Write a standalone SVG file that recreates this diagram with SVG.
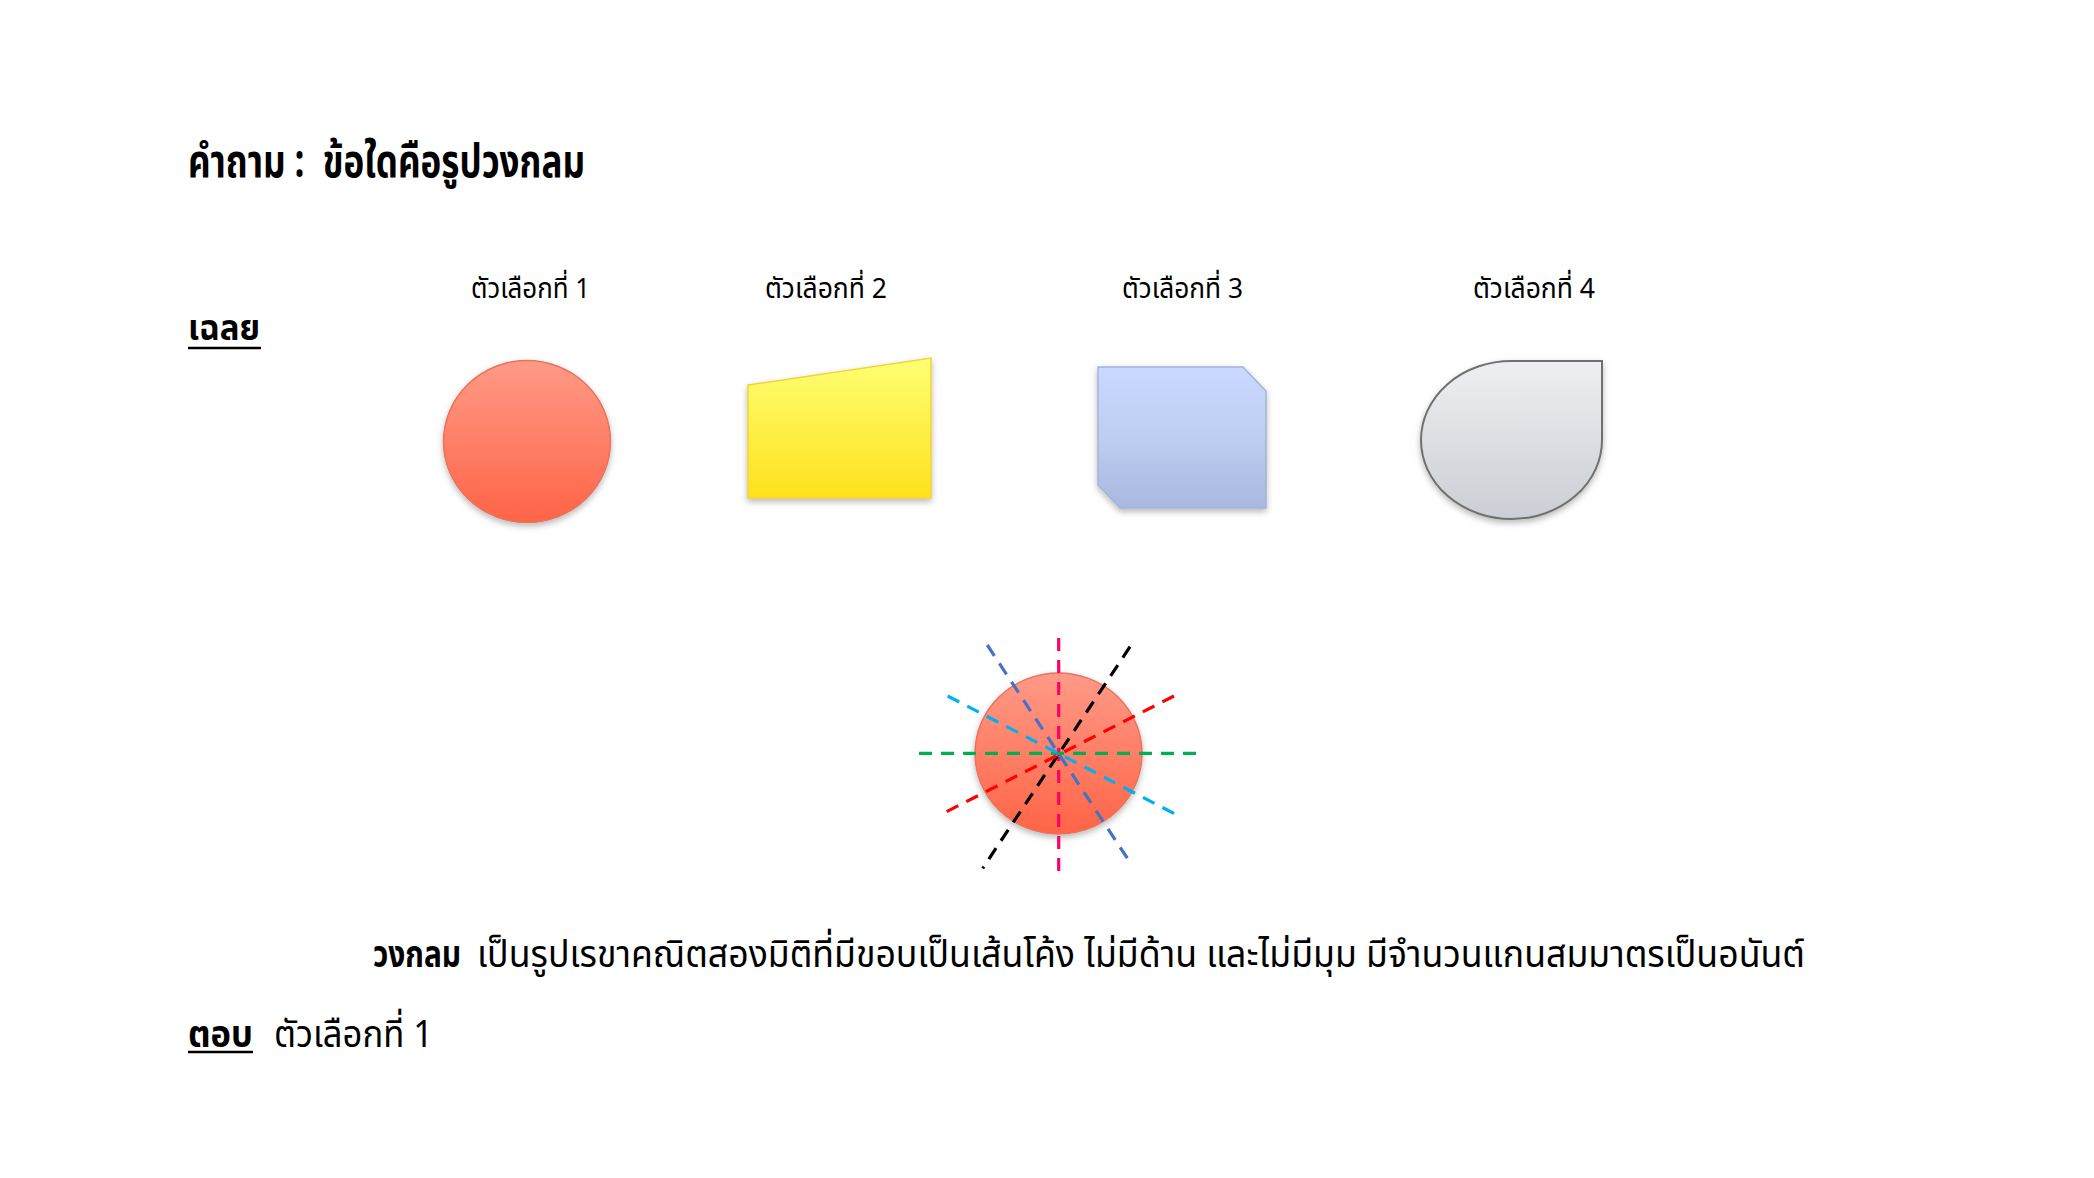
<svg xmlns="http://www.w3.org/2000/svg" width="2094" height="1178" viewBox="0 0 2094 1178">
  <style>
    text { font-family: "Noto Sans Thai", "Noto Sans", "DejaVu Sans", sans-serif; fill: #000; }
    .b { font-weight: bold; }
    .lbl { font-size: 28px; }
    .big { font-size: 38px; }
    .pre { white-space: pre; }
    .ul { stroke: #000; stroke-width: 2.5; }
    .sym { fill: none; stroke-width: 3.2; stroke-dasharray: 13 9; }
  </style>
  <defs>
    <linearGradient id="gRed" x1="0" y1="0" x2="0" y2="1">
      <stop offset="0" stop-color="#FF9A87"/>
      <stop offset="1" stop-color="#FF6446"/>
    </linearGradient>
    <linearGradient id="gYel" x1="0" y1="0" x2="0" y2="1">
      <stop offset="0" stop-color="#FFFF74"/>
      <stop offset="1" stop-color="#FFE11C"/>
    </linearGradient>
    <linearGradient id="gBlue" x1="0" y1="0" x2="0" y2="1">
      <stop offset="0" stop-color="#C9D9FF"/>
      <stop offset="0.5" stop-color="#BECDF2"/>
      <stop offset="1" stop-color="#A8B8DE"/>
    </linearGradient>
    <linearGradient id="gGray" x1="0" y1="0" x2="0" y2="1">
      <stop offset="0" stop-color="#EEEFF2"/>
      <stop offset="1" stop-color="#CBCED4"/>
    </linearGradient>
    <filter id="sh" x="-20%" y="-20%" width="140%" height="150%">
      <feDropShadow dx="0" dy="3" stdDeviation="3" flood-color="#000" flood-opacity="0.28"/>
    </filter>
  </defs>

  <rect width="2094" height="1178" fill="#FFFFFF"/>

  <g id="question">
    <text class="b pre" xml:space="preserve" x="188" y="177" font-size="46" textLength="397" lengthAdjust="spacingAndGlyphs">คำถาม :  ข้อใดคือรูปวงกลม</text>
  </g>

  <g id="answer-key">
    <text class="b" x="188" y="340" font-size="35" textLength="72" lengthAdjust="spacingAndGlyphs">เฉลย</text>
    <line class="ul" x1="188" y1="348" x2="261" y2="348"/>
  </g>

  <g id="option-1">
    <text class="lbl" x="471" y="298" textLength="119" lengthAdjust="spacingAndGlyphs">ตัวเลือกที่ 1</text>
    <ellipse cx="527" cy="441.5" rx="83.5" ry="81" fill="url(#gRed)" stroke="#E8735E" stroke-width="1.5" filter="url(#sh)"/>
  </g>

  <g id="option-2">
    <text class="lbl" x="765" y="298" textLength="122" lengthAdjust="spacingAndGlyphs">ตัวเลือกที่ 2</text>
    <polygon points="748,385 931,358 931,498 748,498" fill="url(#gYel)" stroke="#F2D23A" stroke-width="1.5" filter="url(#sh)"/>
  </g>

  <g id="option-3">
    <text class="lbl" x="1122" y="298" textLength="121" lengthAdjust="spacingAndGlyphs">ตัวเลือกที่ 3</text>
    <polygon points="1098,367 1243,367 1266,391 1266,508 1120,508 1098,485" fill="url(#gBlue)" stroke="#A3B3DA" stroke-width="1.5" filter="url(#sh)"/>
  </g>

  <g id="option-4">
    <text class="lbl" x="1473" y="298" textLength="122" lengthAdjust="spacingAndGlyphs">ตัวเลือกที่ 4</text>
    <path d="M1511.5 361 L1602 361 L1602 440 A90.5 79 0 1 1 1511.5 361 Z" fill="url(#gGray)" stroke="#707070" stroke-width="2" filter="url(#sh)"/>
  </g>

  <g id="symmetry-circle">
    <ellipse cx="1058.5" cy="753.5" rx="83.5" ry="80.5" fill="url(#gRed)" stroke="#E8735E" stroke-width="1.5" filter="url(#sh)"/>
  </g>

  <g id="symmetry-lines">
    <line class="sym" x1="1058.7" y1="638" x2="1058.7" y2="875" stroke="#FF0066"/>
    <line class="sym" x1="919" y1="753.3" x2="1198" y2="753.3" stroke="#00B050"/>
    <line class="sym" x1="1130" y1="646.7" x2="982.7" y2="868.3" stroke="#000000"/>
    <line class="sym" x1="1174" y1="696" x2="940" y2="815" stroke="#FF0000"/>
    <line class="sym" x1="947.7" y1="696" x2="1175" y2="814" stroke="#00B0F0"/>
    <line class="sym" x1="987.3" y1="645" x2="1130" y2="862.3" stroke="#4472C4"/>
  </g>

  <g id="description">
    <text class="b big" x="373" y="967" textLength="88" lengthAdjust="spacingAndGlyphs">วงกลม</text>
    <text class="big" x="477" y="967" textLength="1328" lengthAdjust="spacingAndGlyphs">เป็นรูปเรขาคณิตสองมิติที่มีขอบเป็นเส้นโค้ง ไม่มีด้าน และไม่มีมุม มีจำนวนแกนสมมาตรเป็นอนันต์</text>
  </g>

  <g id="answer">
    <text class="b big" x="188" y="1047" textLength="65" lengthAdjust="spacingAndGlyphs">ตอบ</text>
    <line class="ul" x1="188" y1="1052" x2="253" y2="1052"/>
    <text class="big" x="274" y="1047" textLength="159" lengthAdjust="spacingAndGlyphs">ตัวเลือกที่ 1</text>
  </g>
</svg>
